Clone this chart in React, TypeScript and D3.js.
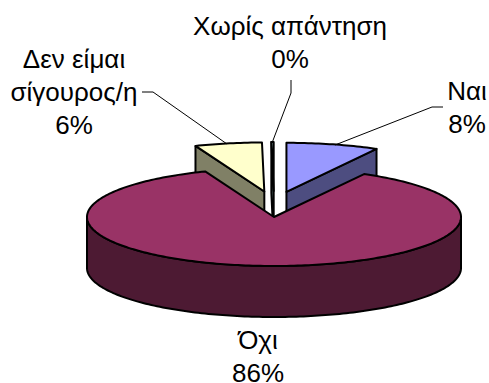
import React from "react";
import * as d3 from "d3";

const categories = ["Ναι", "Όχι", "Δεν είμαι σίγουρος/η", "Χωρίς απάντηση"];
const shares = [8, 86, 5.8, 0.2];
const topColors = ["#9999FF", "#993366", "#FFFFCC", "#CCFFFF"];
const sideColors = ["#4D4D80", "#4D1A33", "#808066", "#668080"];

const W = 489;
const H = 383;
const cx = 274;
const cy = 217;
const rx = 187;
const ry = 49;
const depth = 51;
const explodeX = 50;
const explodeY = 26;
const TAU = Math.PI * 2;

const pie = d3.pie<number>().sort(null).startAngle(0).endAngle(TAU);
const arcs = pie(shares);

// Projects a pie angle (0 = up, clockwise) onto the tilted ellipse.
const proj = (a: number, ox: number, oy: number): [number, number] => [
  ox + rx * Math.sin(a),
  oy - ry * Math.cos(a),
];

function samples(a0: number, a1: number): number[] {
  const n = Math.max(2, Math.ceil(Math.abs(a1 - a0) / 0.02));
  return d3.range(n + 1).map((i) => a0 + ((a1 - a0) * i) / n);
}

const line = d3.line();

type Slice = { i: number; a0: number; a1: number; ox: number; oy: number };
const slices: Slice[] = arcs.map((d, i) => {
  const mid = (d.startAngle + d.endAngle) / 2;
  const k = shares[i] < 50 ? 1 : 0;
  return {
    i,
    a0: d.startAngle,
    a1: d.endAngle,
    ox: cx + k * explodeX * Math.sin(mid),
    oy: cy - k * explodeY * Math.cos(mid),
  };
});

function topPath(s: Slice): string {
  const pts = samples(s.a0, s.a1).map((a) => proj(a, s.ox, s.oy));
  return line([[s.ox, s.oy], ...pts])! + "Z";
}

// Outer wall between two angles, extruded downwards.
function wallPath(s: Slice, a0: number, a1: number): string {
  const up = samples(a0, a1).map((a) => proj(a, s.ox, s.oy));
  const down = up.map(([x, y]) => [x, y + depth] as [number, number]).reverse();
  return line([...up, ...down])! + "Z";
}

// Flat cut face running from the slice centre to the rim at one angle.
function cutPath(s: Slice, a: number): string {
  const [x, y] = proj(a, s.ox, s.oy);
  return (
    line([
      [s.ox, s.oy],
      [x, y],
      [x, y + depth],
      [s.ox, s.oy + depth],
    ])! + "Z"
  );
}

const outline = { stroke: "#000", strokeWidth: 2, strokeLinejoin: "round" as const };

function SliceShape({ s }: { s: Slice }) {
  const side = sideColors[s.i];
  const walls: React.ReactNode[] = [];
  if (shares[s.i] < 50) {
    // Small wedges only show the cut face turned towards the big slice.
    const a = s.i === 0 ? s.a1 : s.a0;
    walls.push(<path key="cut" d={cutPath(s, a)} fill={side} {...outline} />);
  } else {
    // The visible wall is the part of the rim on the viewer's side of the ellipse.
    const lo = Math.max(s.a0, Math.PI / 2);
    const hi = Math.min(s.a1, (3 * Math.PI) / 2);
    walls.push(<path key="wall" d={wallPath(s, lo, hi)} fill={side} {...outline} />);
  }
  return (
    <g>
      {walls}
      <path d={topPath(s)} fill={topColors[s.i]} {...outline} />
    </g>
  );
}

const labelStyle: React.CSSProperties = {
  fontFamily: "'Liberation Sans', Arial, sans-serif",
  fontSize: 26,
  fill: "#000",
};

function Label({ x, y, lines }: { x: number; y: number; lines: string[] }) {
  return (
    <text textAnchor="middle" style={labelStyle}>
      {lines.map((t, i) => (
        <tspan key={i} x={x} y={y + i * 33}>
          {t}
        </tspan>
      ))}
    </text>
  );
}

const pct = (i: number) => `${Math.round(shares[i])}%`;

export default function App() {
  const order = [2, 3, 0, 1];
  const dev = categories[2].split(" ");
  return (
    <svg
      width={W}
      height={H}
      viewBox={`0 0 ${W} ${H}`}
      style={{ position: "absolute", left: 0, top: 0, background: "#fff" }}
    >
      {order.map((i) => (
        <SliceShape key={i} s={slices[i]} />
      ))}
      <g fill="none" stroke="#000" strokeWidth={1}>
        <path d="M335,145L432,107H443" />
        <path d="M227,144L153,92H142" />
        <path d="M272,143L291,93V80" />
      </g>
      <Label x={290} y={35} lines={[categories[3], pct(3)]} />
      <Label x={467} y={100} lines={[categories[0], pct(0)]} />
      <Label x={74} y={68} lines={[dev[0] + " " + dev[1], dev[2], pct(2)]} />
      <Label x={258} y={348.5} lines={[categories[1], pct(1)]} />
    </svg>
  );
}
